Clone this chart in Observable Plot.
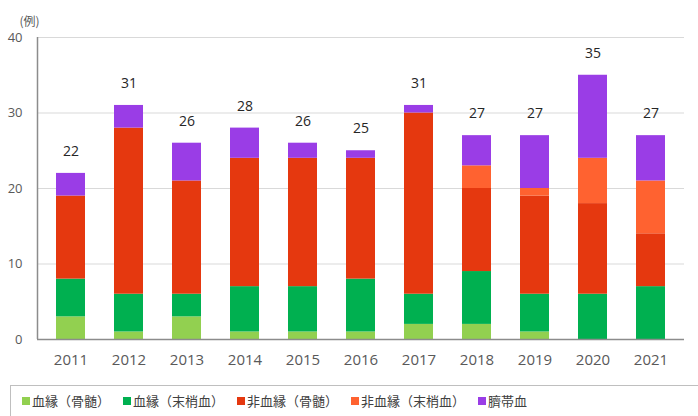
<!DOCTYPE html>
<html><head><meta charset="utf-8">
<script src="https://cdn.jsdelivr.net/npm/d3@7"></script>
<script src="https://cdn.jsdelivr.net/npm/@observablehq/plot@0.6"></script>
<style>
body{margin:0;background:#fff;font-family:"Noto Sans CJK JP","Noto Sans",sans-serif;}
#wrap{position:relative;width:698px;height:416px;overflow:hidden;}
#legend{position:absolute;left:10px;top:385px;width:700px;height:40px;border:1px solid #bfbfbf;box-sizing:border-box;display:flex;align-items:flex-start;padding-top:5px;padding-left:11px;font-size:13px;color:#404040;}
#legend span.item{display:inline-flex;align-items:center;margin-right:13px;white-space:nowrap;}
#legend span.sw{display:inline-block;width:8px;height:8px;margin-right:2px;}
</style></head>
<body><div id="wrap"><div id="chart"></div><div id="legend"></div></div>
<script>
const years = ["2011","2012","2013","2014","2015","2016","2017","2018","2019","2020","2021"];
const seriesNames = ["血縁（骨髄）","血縁（末梢血）","非血縁（骨髄）","非血縁（末梢血）","臍帯血"];
const relatedBM   = [3,1,3,1,1,1,2,2,1,0,0];
const relatedPB   = [5,5,3,6,6,7,4,7,5,6,7];
const unrelatedBM = [11,22,15,17,17,16,24,11,13,12,7];
const unrelatedPB = [0,0,0,0,0,0,0,3,1,6,7];
const cordBlood   = [3,3,5,4,2,1,1,4,7,11,6];
const colors = ["#92d050","#00b050","#e5380f","#ff6230","#9a3de6"];
const yTicks = [0,10,20,30,40];

const seriesValues = [relatedBM, relatedPB, unrelatedBM, unrelatedPB, cordBlood];
const rows = [];
seriesNames.forEach((s, si) => years.forEach((y, yi) => rows.push({year: y, series: s, value: seriesValues[si][yi]})));
const totals = years.map((y, i) => ({year: y, total: seriesValues.reduce((a, arr) => a + arr[i], 0)}));

const chart = Plot.plot({
  width: 698, height: 380,
  marginTop: 37, marginBottom: 41, marginLeft: 37, marginRight: 14,
  style: {fontFamily: "'Open Sans', 'Noto Sans', sans-serif", fontSize: "13px", color: "#595959", background: "#fff"},
  x: {domain: years, paddingInner: 0.5, paddingOuter: 0.25, label: null},
  y: {domain: [0, 40], label: null},
  color: {domain: seriesNames, range: colors},
  marks: [
    Plot.gridY(yTicks.filter(d => d > 0), {stroke: "#d9d9d9", strokeOpacity: 1}),
    Plot.axisY({ticks: yTicks, tickSize: 0, tickPadding: 15, fill: "#595959", fontSize: 13}),
    Plot.axisX({tickSize: 0, tickPadding: 15, fill: "#595959", fontSize: 15}),
    Plot.barY(rows, {x: "year", y: "value", fill: "series", order: seriesNames}),
    Plot.ruleY([0], {stroke: "#8c8c8c", strokeWidth: 1.5}),
    Plot.text(totals, {x: "year", y: "total", text: d => String(d.total), dy: -22, fill: "#262626", fontSize: 14}),
    Plot.text(["(例)"], {frameAnchor: "top-left", dx: -8, dy: -20, textAnchor: "middle", fill: "#595959", fontSize: 12, fontFamily: "'Noto Sans CJK JP', sans-serif"})
  ]
});
const svg = d3.select(chart);
svg.append("line").attr("x1", 37.5).attr("x2", 37.5).attr("y1", 37).attr("y2", 339).attr("stroke", "#8c8c8c").attr("stroke-width", 1.5);
document.getElementById("chart").appendChild(chart);

const legend = document.getElementById("legend");
seriesNames.forEach((s, i) => {
  const it = document.createElement("span"); it.className = "item";
  const sw = document.createElement("span"); sw.className = "sw"; sw.style.background = colors[i];
  it.appendChild(sw); it.appendChild(document.createTextNode(s));
  legend.appendChild(it);
});
</script></body></html>
